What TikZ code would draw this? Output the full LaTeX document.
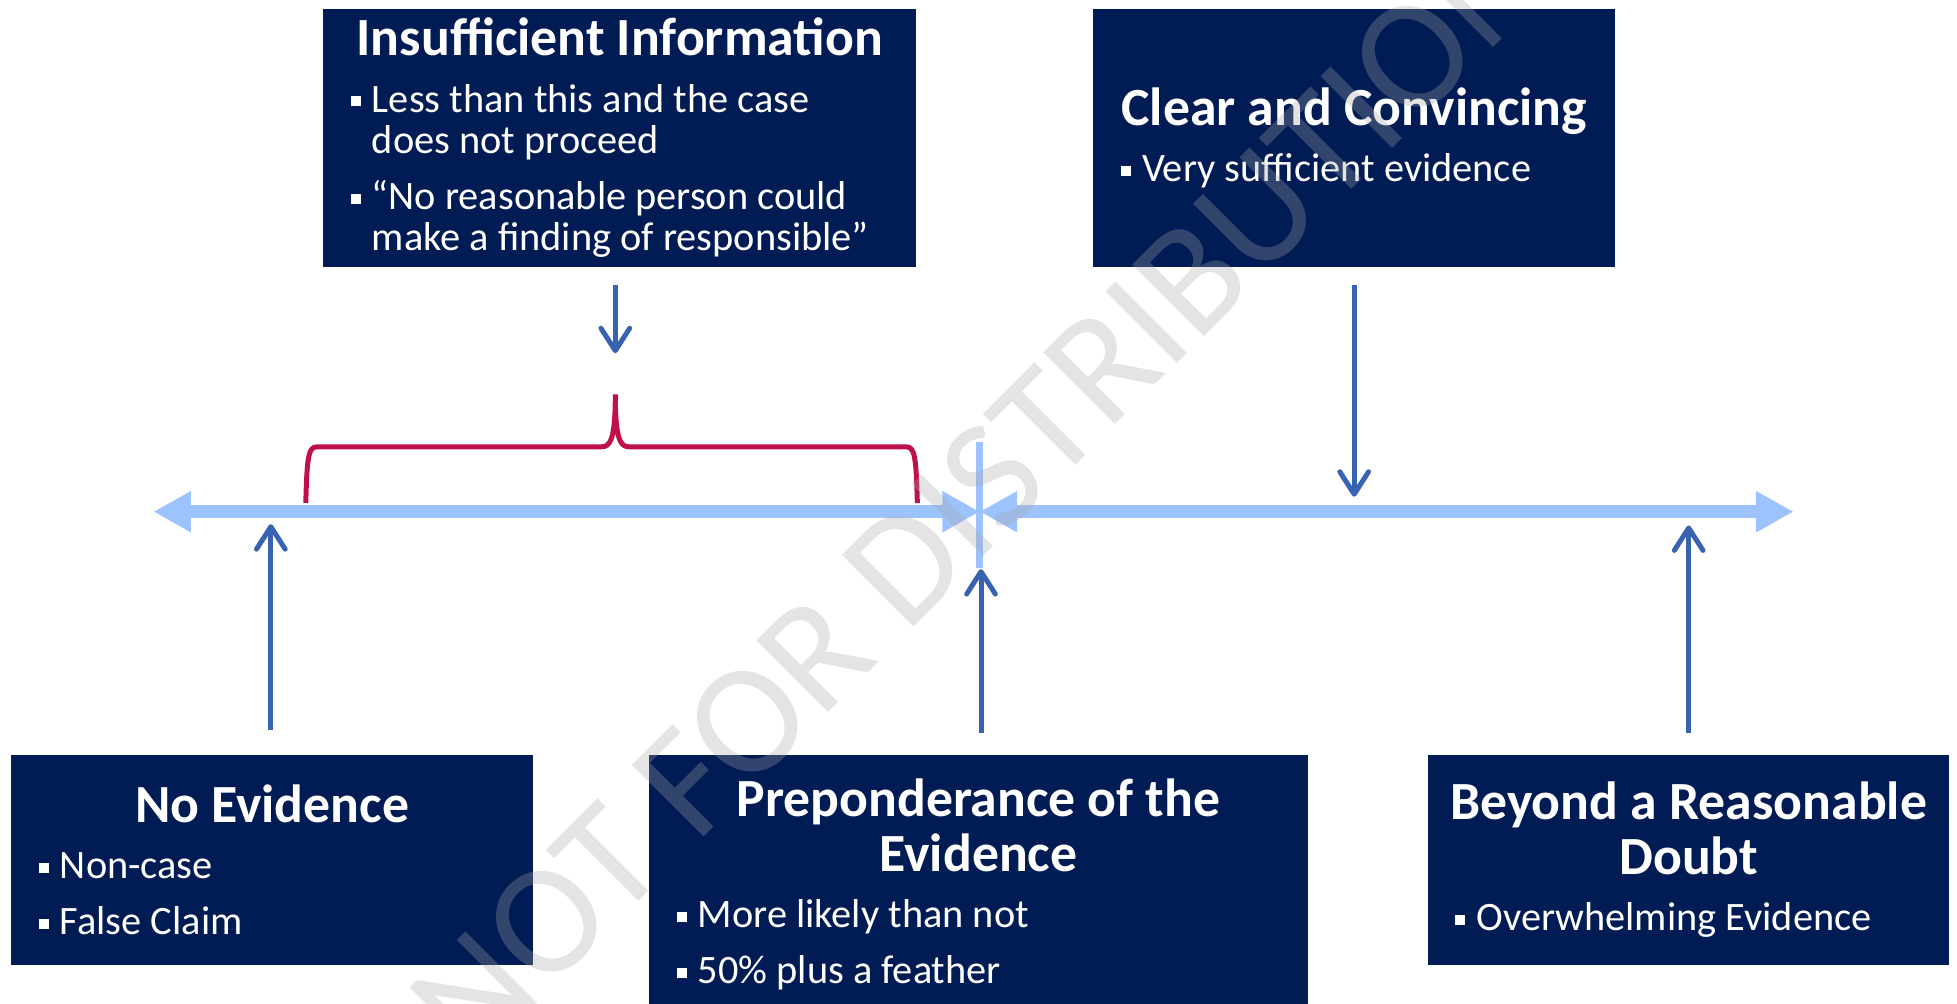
\documentclass[tikz,border=0pt]{standalone}
\usepackage{fontspec}
\setmainfont{Carlito}
\usepackage{tikz}
\usetikzlibrary{
    arrows.meta,           % Modern arrow tips
    calc                   % Coordinate calculations
}

\definecolor{navy}{RGB}{1,28,84}
\definecolor{axisblue}{RGB}{157,195,255}
\definecolor{ptrblue}{RGB}{55,99,177}
\definecolor{bracered}{RGB}{192,16,72}
\definecolor{wmgray}{RGB}{164,164,164}

\newcommand{\sqb}{\raisebox{0.14em}{\rule{0.25em}{0.25em}}}
\newcommand{\brk}{\hfil\break}
\newcommand{\bitem}[1]{\par\vspace{6.8pt}\hangindent=0.34cm\hangafter=1\noindent
    \spaceskip=0pt\xspaceskip=0pt\relax\makebox[0.34cm][l]{\sqb}#1\par}
\newcommand{\btitle}[1]{\noindent\hspace*{-0.44cm}\parbox[b]{\dimexpr\linewidth+0.88cm\relax}{\centering
    \fontsize{24.5pt}{25pt}\selectfont\bfseries\spaceskip=0pt\xspaceskip=0pt\relax #1}\par}

\tikzset{
    box/.style={fill=navy, text=white, inner xsep=0.44cm, inner ysep=0pt, align=left,
        font=\fontsize{18.4pt}{18.8pt}\selectfont},
    ptr/.style={draw=ptrblue, line width=0.08cm, -{Straight Barb[length=0.36cm,width=0.46cm,round]}},
    axisline/.style={draw=axisblue, line width=0.2cm,
        {Triangle[length=0.6cm,width=0.62cm]}-{Triangle[length=0.6cm,width=0.62cm]}},
    wmark/.style={text=wmgray, text opacity=0.3, font=\fontsize{72pt}{72pt}\selectfont, rotate=45}
}

\begin{document}
\begin{tikzpicture}[x=0.02cm,y=-0.02cm]
    \useasboundingbox (0,0) rectangle (1568,804);

    % boxes
    \node[box, text width=8.62cm, minimum height=4.14cm] (ins) at (496.5,110.5) {%
        \btitle{Insufficient Information}
        \bitem{Less than this and the case\brk does not proceed}
        \bitem{“No reasonable person could\brk make a finding of responsible”}};
    \node[box, text width=7.48cm, minimum height=4.14cm] (clr) at (1085,110.5) {%
        \btitle{Clear and Convincing}
        \bitem{Very sufficient evidence}};
    \node[box, text width=7.48cm, minimum height=3.36cm] (noev) at (218,689) {%
        \btitle{No Evidence}
        \bitem{Non-case}
        \bitem{False Claim}};
    \node[box, text width=9.68cm, minimum height=4.14cm] (prep) at (784,708.5) {%
        \btitle{Preponderance of the\\Evidence}
        \bitem{More likely than not}
        \bitem{50\% plus a feather}};
    \node[box, text width=7.48cm, minimum height=3.36cm] (bey) at (1353,689) {%
        \btitle{Beyond a Reasonable\\Doubt}
        \bitem{Overwhelming Evidence}};

    % scale
    \coordinate (axL) at (123,410);
    \coordinate (axM) at (785,410);
    \coordinate (axR) at (1437,410);
    \draw[axisline] (axL) -- (axM);
    \draw[axisline] (axM) -- (axR);
    \draw[axisblue, line width=0.11cm] (785,354) -- (785,455);

    % brace
    \draw[bracered, line width=0.08cm] (245,403) .. controls (246,366) and (247,358) .. (254,358)
        -- (482,358) .. controls (489,358) and (493,352) .. (493,316)
        .. controls (493,352) and (497,358) .. (504,358) -- (726,358)
        .. controls (733,358) and (734,366) .. (735,403);

    % pointers
    \coordinate (insTip) at (493,283);
    \coordinate (clrTip) at (1085,398);
    \coordinate (noevTip) at (217,420);
    \coordinate (prepTip) at (786,456);
    \coordinate (beyTip) at (1353,421);
    \draw[ptr] (insTip |- 0,228) -- (insTip);
    \draw[ptr] ($(clr.south)+(0,14)$) -- (clrTip);
    \draw[ptr] (noevTip |- 0,585) -- (noevTip);
    \draw[ptr] (prepTip |- 0,587) -- (prepTip);
    \draw[ptr] (beyTip |- 0,587) -- (beyTip);

    \node[wmark] (wm) at (785,392) {NOT FOR DISTRIBUTION};
\end{tikzpicture}
\end{document}
